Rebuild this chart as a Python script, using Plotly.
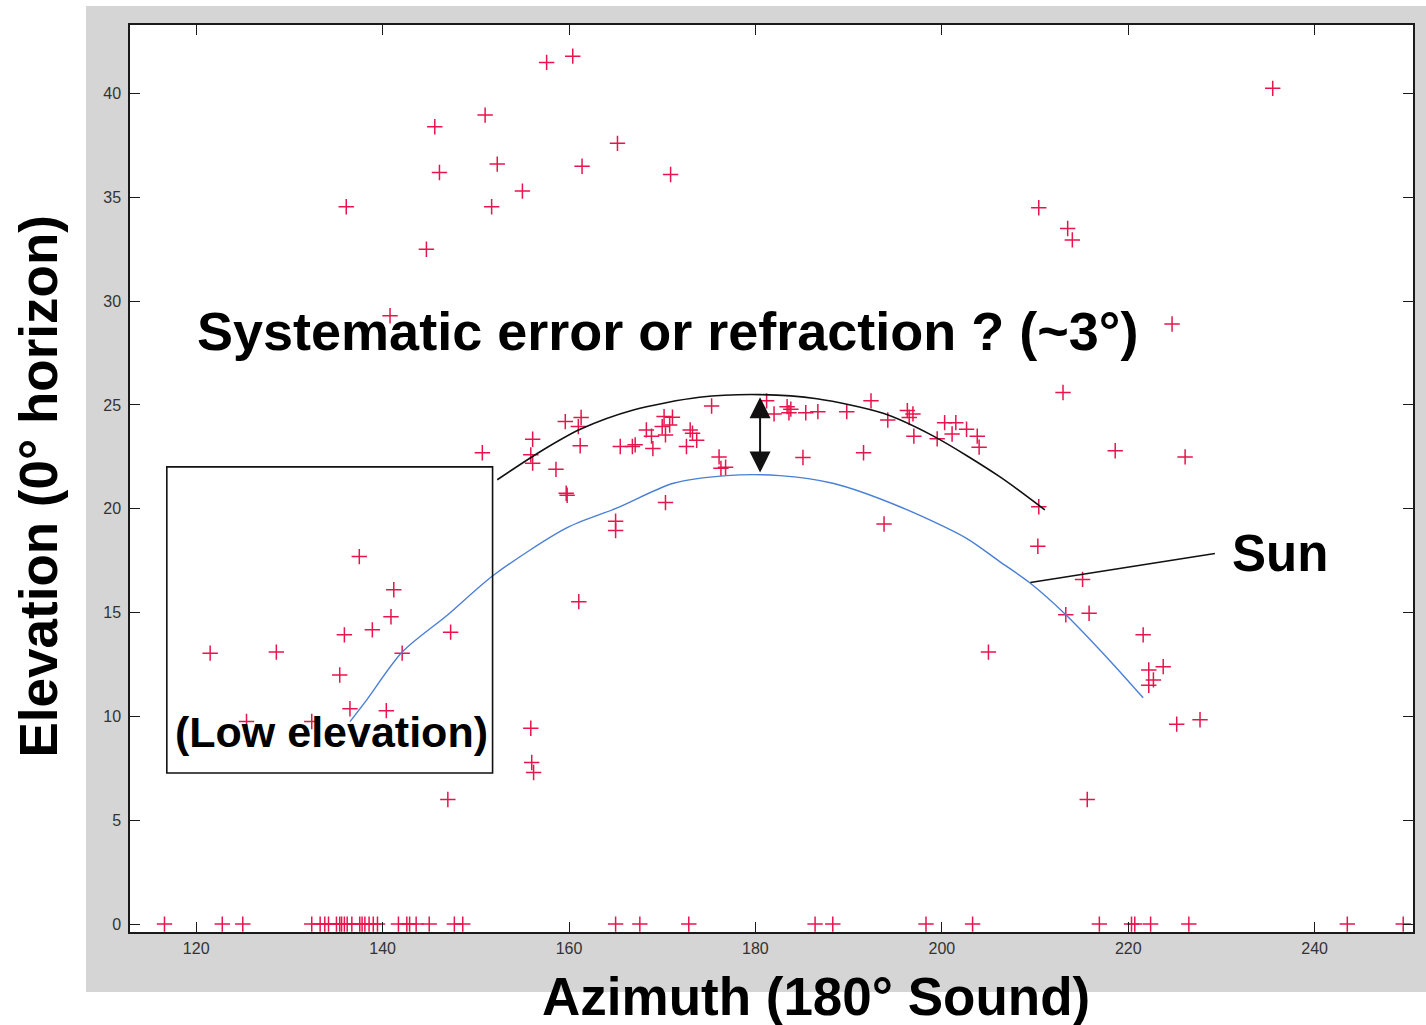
import plotly.graph_objects as go

# Observed detections: azimuth / elevation (degrees)
det_az = [
    136.1, 157.6, 160.4, 151.0, 145.6, 152.3, 146.1, 155.0, 151.7, 144.7, 140.8,
    165.2, 161.4, 170.9, 210.4, 235.5, 213.5, 214.0, 224.7, 213.0,
    150.7, 156.1, 155.9, 156.1, 158.6, 159.7, 159.8, 159.6, 161.3, 161.0, 161.2, 161.05,
    137.5, 141.2, 140.9, 135.9, 138.9, 147.3, 142.1, 121.5, 128.6, 135.4, 136.5, 140.4,
    125.4, 132.4, 155.9, 156.0, 156.2, 147.0,
    165.5, 166.8, 167.1, 168.3, 168.85, 169.0, 170.35, 170.2, 171.1, 170.8, 170.0,
    173.0, 172.6, 173.7, 173.25, 170.35, 165.0, 165.0, 175.3, 176.1, 176.3, 176.8,
    181.2, 182.0, 183.4, 183.8, 183.6, 185.4, 186.7, 185.1, 189.8, 192.4, 191.6,
    194.2, 196.3, 196.9, 196.5, 197.0, 193.8, 199.5, 200.3, 201.5, 201.1, 202.65,
    203.8, 204.0, 205.0,
    218.6, 226.1, 210.4, 210.3, 215.1, 213.3, 215.8, 221.6, 222.2, 223.75, 222.2,
    222.7, 225.2, 227.7, 215.6,
]
det_el = [
    34.55, 41.5, 41.8, 38.96, 38.4, 36.6, 36.2, 35.3, 34.55, 32.5, 29.3,
    37.6, 36.5, 36.1, 34.5, 40.25, 33.5, 32.95, 28.9, 25.6,
    22.7, 23.35, 22.6, 22.2, 21.9, 20.75, 20.65, 24.2, 24.4, 23.96, 23.04, 15.53,
    17.7, 16.1, 14.8, 13.93, 14.17, 14.06, 13.05, 13.05, 13.1, 12.0, 10.37, 10.28,
    9.76, 9.76, 9.43, 7.78, 7.3, 6.0,
    23.0, 23.0, 23.08, 23.8, 23.5, 22.9, 23.56, 24.44, 24.41, 24.04, 23.96,
    23.8, 23.0, 23.3, 23.64, 20.3, 19.4, 18.95, 24.95, 22.5, 21.95, 22.0,
    25.2, 24.57, 24.92, 24.8, 24.63, 24.63, 24.68, 22.47, 24.68, 25.2, 22.7,
    24.28, 24.73, 24.57, 24.4, 23.5, 19.27, 23.37, 24.15, 24.15, 23.6, 23.83,
    23.5, 22.97, 13.1,
    22.8, 22.5, 20.1, 18.2, 16.6, 14.9, 14.97, 13.93, 12.24, 12.4, 11.5,
    11.76, 9.63, 9.84, 6.0,
]

# Detections at the horizon (elevation 0)
horizon_az = [
    116.6, 122.8, 125.0, 132.4, 133.3, 133.8, 134.2, 135.05, 135.4, 135.6, 135.9,
    136.2, 136.7, 137.55, 137.8, 138.1, 138.55, 139.0, 139.45, 141.7, 142.6, 142.9,
    143.6, 145.0, 147.7, 148.6, 165.0, 167.6, 172.85, 186.4, 188.3, 198.3, 203.3,
    216.9, 220.35, 220.7, 222.4, 226.5, 243.5, 249.5,
]
horizon_el = [0.0] * len(horizon_az)

# Computed sun track
sun_az = [136.5, 138.3, 142.1, 147.0, 151.9, 159.7, 165.1, 171.2, 176.9, 182.6,
          188.3, 195.5, 202.65, 206.2, 209.4, 213.3, 218.0, 221.6]
sun_el = [9.75, 10.8, 13.1, 14.9, 16.8, 19.07, 20.03, 21.23, 21.6, 21.6,
          21.23, 20.1, 18.58, 17.46, 16.45, 14.9, 12.7, 10.9]

# Curve following the detections above the sun track
obs_az = [152.3, 156.9, 161.2, 166.9, 174.0, 180.5, 186.6, 193.7, 199.1, 206.2, 211.05]
obs_el = [21.4, 22.75, 23.83, 24.76, 25.37, 25.5, 25.3, 24.6, 23.5, 21.55, 19.95]

x_ticks = [120, 140, 160, 180, 200, 220, 240]
y_ticks = [0, 5, 10, 15, 20, 25, 30, 35, 40]

MARK = "#e8144c"
FONT = "Liberation Sans, Arial, sans-serif"

fig = go.Figure()

marker = dict(symbol="cross-thin", size=11, line=dict(width=1.5, color=MARK), color=MARK)
fig.add_trace(go.Scatter(x=horizon_az, y=horizon_el, mode="markers", marker=marker,
                         cliponaxis=False, hoverinfo="x+y"))
fig.add_trace(go.Scatter(x=det_az, y=det_el, mode="markers", marker=marker, hoverinfo="x+y"))
fig.add_trace(go.Scatter(x=sun_az, y=sun_el, mode="lines", line=dict(color="#4a7fd6", width=1.4,
                         shape="spline", smoothing=0.8), hoverinfo="skip"))
fig.add_trace(go.Scatter(x=obs_az, y=obs_el, mode="lines", line=dict(color="#111111", width=1.6,
                         shape="spline", smoothing=0.8), hoverinfo="skip"))

shapes = [
    # grey figure frame, then white axes area on top of it
    dict(type="rect", xref="paper", yref="paper", x0=-0.0343, x1=1.02, y0=-0.0662, y1=1.0209,
         fillcolor="#d5d5d5", line=dict(width=0), layer="below"),
    dict(type="rect", xref="paper", yref="paper", x0=0, x1=1, y0=0, y1=1,
         fillcolor="white", line=dict(width=0), layer="below"),
    # low-elevation region
    dict(type="rect", xref="x", yref="y", x0=116.85, x1=151.8, y0=7.28, y1=22.02,
         line=dict(color="#111111", width=1.6), fillcolor="rgba(0,0,0,0)"),
    # Sun leader line
    dict(type="line", xref="x", yref="y", x0=209.5, y0=16.45, x1=229.3, y1=17.85,
         line=dict(color="#111111", width=1.6)),
]


def label(text, x, y, size, angle=0):
    return dict(text=f"<b>{text}</b>", xref="paper", yref="paper", x=x, y=y,
                xanchor="center", yanchor="middle", textangle=angle, showarrow=False,
                font=dict(family=FONT, size=size, color="black"))


annotations = [
    label("Systematic error or refraction ? (~3°)", 0.4193, 0.6626, 54),
    label("(Low elevation)", 0.1567, 0.2205, 43),
    label("Sun", 0.8963, 0.4173, 51),
    label("Azimuth (180° Sound)", 0.5343, -0.0711, 53),
    label("Elevation (0° horizon)", -0.0717, 0.4912, 53, angle=-90),
    # double-headed offset arrow between the two curves
    dict(x=180.5, y=21.75, ax=180.5, ay=25.45, xref="x", yref="y", axref="x", ayref="y",
         text="", showarrow=True, arrowhead=2, startarrowhead=2, arrowside="end+start",
         arrowsize=2.1, startarrowsize=2.1, arrowwidth=2, arrowcolor="#111111"),
]

axis_common = dict(showline=True, linecolor="#1a1a1a", linewidth=1.5, mirror="ticks",
                   ticks="inside", ticklen=10, tickwidth=1.3, tickcolor="#1a1a1a",
                   showgrid=False, zeroline=False,
                   tickfont=dict(family=FONT, size=16, color="#333333"))

fig.update_layout(
    width=1426, height=1025,
    margin=dict(l=130, r=13, t=25, b=93),
    paper_bgcolor="white", plot_bgcolor="white",
    showlegend=False,
    shapes=shapes, annotations=annotations,
    xaxis=dict(range=[112.9, 250.55], tickvals=x_ticks, ticklabelstandoff=1, **axis_common),
    yaxis=dict(range=[-0.38, 43.3], tickvals=y_ticks, ticklabelstandoff=4, **axis_common),
)

fig.write_html("out.html")
